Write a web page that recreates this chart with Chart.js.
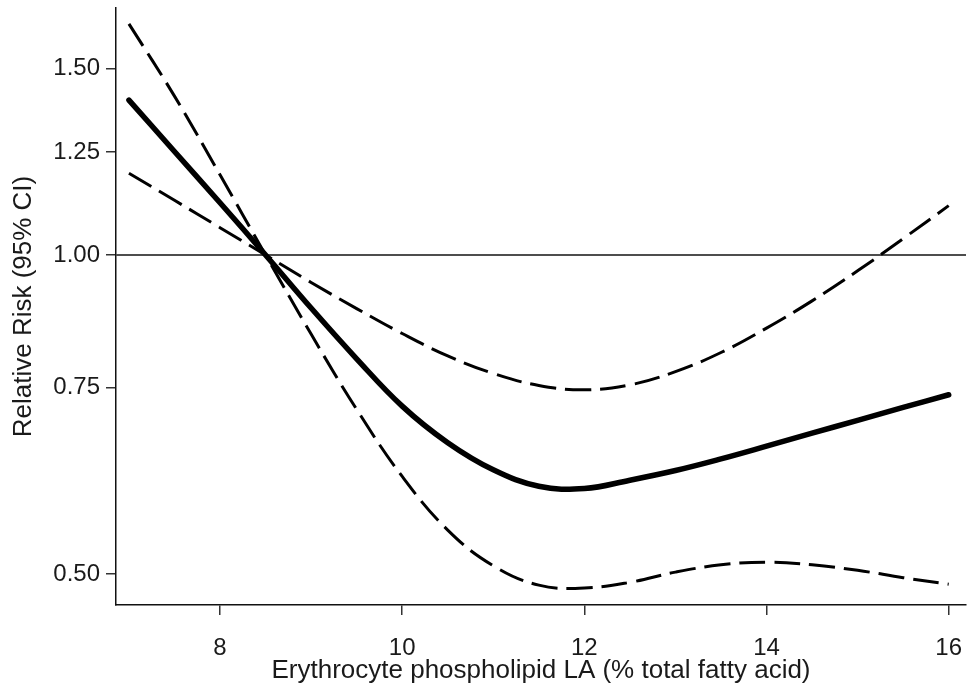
<!DOCTYPE html>
<html lang="en">
<head>
    <meta charset="UTF-8">
    <title>Relative Risk by Erythrocyte LA</title>
    <script src="https://cdn.jsdelivr.net/npm/chart.js"></script>
    <style>
        body { margin: 0; background: #fff; }
    </style>
</head>
<body>
    <canvas id="rrChart" width="967" height="689"></canvas>

    <script>
        // Erythrocyte phospholipid LA (% total fatty acid)
        const laValues = [7, 7.5, 8, 8.5, 9, 9.5, 10, 10.5, 11, 11.5, 12, 12.5, 13, 13.5, 14, 14.5, 15, 15.5, 16];

        // Relative risk (solid line)
        const rrEstimate = [1.400, 1.252, 1.120, 1.000, 0.891, 0.798, 0.720, 0.665, 0.627, 0.605, 0.602, 0.613, 0.626, 0.642, 0.660, 0.679, 0.698, 0.718, 0.738];

        // 95% CI limits (dashed), the two bands cross at the reference value 8.5
        const ciFlat = [1.194, 1.126, 1.061, 1.000, 0.942, 0.890, 0.843, 0.803, 0.773, 0.753, 0.746, 0.754, 0.776, 0.809, 0.853, 0.905, 0.966, 1.036, 1.113];
        const ciSteep = [1.652, 1.412, 1.190, 1.000, 0.842, 0.715, 0.618, 0.550, 0.509, 0.488, 0.485, 0.491, 0.502, 0.510, 0.513, 0.510, 0.504, 0.496, 0.489];

        const xTicks = [8, 10, 12, 14, 16];
        const yTicks = [0.50, 0.75, 1.00, 1.25, 1.50];
        const refValue = 1.0;

        const FONT = '"Liberation Sans", Arial, sans-serif';

        function toPoints(ys) {
            return laValues.map((x, i) => ({ x: x, y: ys[i] }));
        }

        // horizontal line at RR = 1
        const refLine = {
            id: 'refLine',
            beforeDatasetsDraw(chart) {
                const { ctx, chartArea, scales } = chart;
                const y = scales.y.getPixelForValue(refValue);
                ctx.save();
                ctx.strokeStyle = '#4d4d4d';
                ctx.lineWidth = 2;
                ctx.beginPath();
                ctx.moveTo(chartArea.left, y);
                ctx.lineTo(chartArea.right, y);
                ctx.stroke();
                ctx.restore();
            }
        };

        const lineBase = {
            borderColor: '#000',
            pointRadius: 0,
            tension: 0.4,
            fill: false
        };

        // keep the plot area where the axes sit, no extra room for edge labels
        function noEdgePadding(scale) {
            scale.paddingTop = 0;
            scale.paddingBottom = 0;
            scale.paddingLeft = 0;
            scale.paddingRight = 0;
        }

        const ctx = document.getElementById('rrChart').getContext('2d');
        new Chart(ctx, {
            type: 'line',
            data: {
                datasets: [
                    Object.assign({ data: toPoints(ciFlat), borderWidth: 3, borderDash: [26, 9] }, lineBase),
                    Object.assign({ data: toPoints(ciSteep), borderWidth: 3, borderDash: [26, 9] }, lineBase),
                    Object.assign({ data: toPoints(rrEstimate), borderWidth: 5.5, borderCapStyle: 'round' }, lineBase)
                ]
            },
            options: {
                responsive: false,
                animation: false,
                devicePixelRatio: 1,
                layout: { padding: { top: 8, right: 1, left: 0, bottom: 0 } },
                plugins: {
                    legend: { display: false },
                    tooltip: { enabled: false }
                },
                scales: {
                    x: {
                        type: 'linear',
                        min: 6.858,
                        max: 16.19,
                        afterBuildTicks: (scale) => { scale.ticks = xTicks.map(v => ({ value: v })); },
                        afterFit: (scale) => { scale.height = 84; noEdgePadding(scale); },
                        grid: { drawOnChartArea: false, tickLength: 10, color: '#333', lineWidth: 1.5 },
                        border: { display: true, color: '#111', width: 1.5 },
                        ticks: {
                            color: '#1a1a1a',
                            padding: 19,
                            maxRotation: 0,
                            font: { family: FONT, size: 24 },
                            callback: (v) => String(v)
                        },
                        title: {
                            display: true,
                            text: 'Erythrocyte phospholipid LA (% total fatty acid)',
                            color: '#1a1a1a',
                            font: { family: FONT, size: 26, lineHeight: 1 },
                            padding: { top: 0, bottom: 5 }
                        }
                    },
                    y: {
                        type: 'logarithmic',
                        min: 0.4674,
                        max: 1.71,
                        afterBuildTicks: (scale) => { scale.ticks = yTicks.map(v => ({ value: v })); },
                        afterFit: (scale) => { scale.width = 116; noEdgePadding(scale); },
                        grid: { drawOnChartArea: false, tickLength: 10, color: '#333', lineWidth: 1.5 },
                        border: { display: true, color: '#111', width: 1.5 },
                        ticks: {
                            color: '#1a1a1a',
                            padding: 6,
                            font: { family: FONT, size: 24 },
                            callback: (v) => Number(v).toFixed(2)
                        },
                        title: {
                            display: true,
                            text: 'Relative Risk (95% CI)',
                            color: '#1a1a1a',
                            font: { family: FONT, size: 26, lineHeight: 1 },
                            padding: { top: 11, bottom: 0 }
                        }
                    }
                }
            },
            plugins: [refLine]
        });
    </script>
</body>
</html>
